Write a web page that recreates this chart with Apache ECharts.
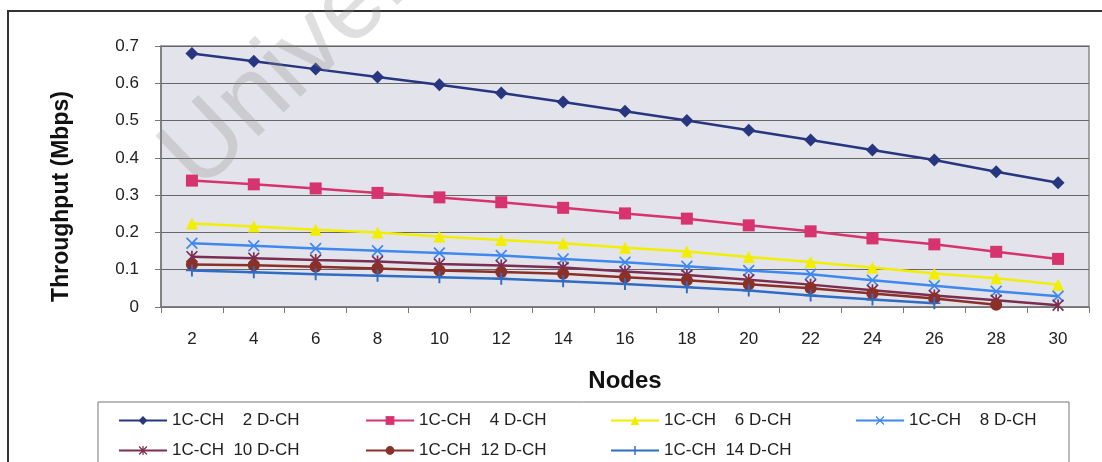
<!DOCTYPE html>
<html>
<head>
<meta charset="utf-8">
<script src="https://cdn.jsdelivr.net/npm/echarts@6/dist/echarts.min.js"></script>
<style>
  html, body { margin: 0; padding: 0; background: #fff; }
  #chart { width: 1102px; height: 462px; }
</style>
</head>
<body>
<div id="chart"></div>
<script>
// x categories (number of nodes)
var nodes = ['2', '4', '6', '8', '10', '12', '14', '16', '18', '20', '22', '24', '26', '28', '30'];

// throughput values (Mbps)
var ch2  = [0.680, 0.659, 0.638, 0.617, 0.596, 0.574, 0.550, 0.525, 0.500, 0.474, 0.448, 0.421, 0.394, 0.363, 0.333];
var ch4  = [0.339, 0.329, 0.318, 0.306, 0.294, 0.281, 0.266, 0.251, 0.237, 0.219, 0.203, 0.184, 0.168, 0.148, 0.129];
var ch6  = [0.224, 0.216, 0.207, 0.200, 0.189, 0.180, 0.171, 0.159, 0.149, 0.134, 0.121, 0.106, 0.090, 0.077, 0.060];
var ch8  = [0.171, 0.164, 0.157, 0.151, 0.145, 0.138, 0.129, 0.120, 0.109, 0.098, 0.088, 0.072, 0.057, 0.042, 0.029];
var ch10 = [0.135, 0.131, 0.126, 0.122, 0.115, 0.111, 0.106, 0.095, 0.086, 0.073, 0.060, 0.045, 0.031, 0.018, 0.005];
var ch12 = [0.114, 0.112, 0.108, 0.103, 0.098, 0.094, 0.089, 0.080, 0.072, 0.061, 0.050, 0.036, 0.023, 0.006, '-'];
var ch14 = [0.098, 0.093, 0.088, 0.084, 0.080, 0.076, 0.069, 0.062, 0.053, 0.044, 0.031, 0.020, 0.010, '-', '-'];

var names = [
    '1C-CH    2 D-CH', '1C-CH    4 D-CH', '1C-CH    6 D-CH', '1C-CH    8 D-CH',
    '1C-CH  10 D-CH', '1C-CH  12 D-CH', '1C-CH  14 D-CH'
];
var yTicks = [0, 0.1, 0.2, 0.3, 0.4, 0.5, 0.6, 0.7];

var FONT = '"Liberation Sans", Arial, sans-serif';

// marker shapes like the Excel ones
var xMark = 'path://M0,1 L1,0 L5,4 L9,0 L10,1 L6,5 L10,9 L9,10 L5,6 L1,10 L0,9 L4,5 Z';
var starMark = 'path://M0,1 L1,0 L5,4 L9,0 L10,1 L6,5 L10,9 L9,10 L5,6 L1,10 L0,9 L4,5 Z M4.3,0 L5.7,0 L5.7,10 L4.3,10 Z';
var plusMark = 'path://M4.2,0 H5.8 V4.3 H10 V5.7 H5.8 V10 H4.2 V5.7 H0 V4.3 H4.2 Z';

function makeSeries(name, data, color, symbol, size) {
    return {
        name: name,
        type: 'line',
        data: data,
        symbol: symbol,
        symbolSize: size,
        showSymbol: true,
        lineStyle: { color: color, width: 2.5 },
        itemStyle: { color: color },
        z: 3
    };
}

function makeLegend(left, data) {
    return {
        orient: 'vertical',
        left: left,
        top: 412,
        padding: 0,
        itemWidth: 48,
        itemHeight: 11,
        itemGap: 13,
        textStyle: { fontSize: 17, color: '#222', fontFamily: FONT },
        data: data
    };
}

var chart = echarts.init(document.getElementById('chart'));
var option = {
    backgroundColor: '#fff',
    animation: false,
    textStyle: { fontFamily: FONT },
    grid: {
        left: 161, top: 46, right: 13, bottom: 155,
        show: true,
        backgroundColor: '#e3e3eb',
        borderColor: '#8a8a8a',
        borderWidth: 1.5
    },
    legend: [
        makeLegend(118, [names[0], names[4]]),
        makeLegend(365, [names[1], names[5]]),
        makeLegend(610, [names[2], names[6]]),
        makeLegend(855, [names[3]])
    ],
    xAxis: {
        type: 'category',
        data: nodes,
        boundaryGap: true,
        name: 'Nodes',
        nameLocation: 'middle',
        nameGap: 62,
        nameTextStyle: { fontSize: 24, fontWeight: 'bold', color: '#111', fontFamily: FONT },
        axisLine: { lineStyle: { color: '#777', width: 1.5 } },
        axisTick: { show: true, inside: false, length: 6, lineStyle: { color: '#777' } },
        axisLabel: { fontSize: 17, color: '#222', margin: 24, fontFamily: FONT },
        splitLine: { show: false }
    },
    yAxis: {
        type: 'value',
        min: yTicks[0],
        max: yTicks[yTicks.length - 1],
        interval: 0.1,
        name: 'Throughput (Mbps)',
        nameLocation: 'middle',
        nameGap: 88,
        nameTextStyle: { fontSize: 23, fontWeight: 'bold', color: '#111', fontFamily: FONT, padding: [0, 40, 0, 0] },
        axisLine: { show: true, lineStyle: { color: '#777', width: 1.5 } },
        axisTick: { show: true, inside: false, length: 6, lineStyle: { color: '#777' } },
        axisLabel: {
            fontSize: 17, color: '#222', margin: 22, fontFamily: FONT,
            formatter: function (v) { return String(Math.round(v * 10) / 10); }
        },
        splitLine: { show: true, lineStyle: { color: '#666', width: 1 } }
    },
    graphic: [
        // outer chart frame
        {
            type: 'rect', silent: true, z: -1,
            shape: { x: 8, y: 11, width: 1120, height: 480 },
            style: { fill: 'none', stroke: '#333', lineWidth: 2 }
        },
        // legend frame
        {
            type: 'rect', silent: true,
            shape: { x: 98, y: 402, width: 971, height: 90 },
            style: { fill: 'none', stroke: '#777', lineWidth: 1 }
        },
        // scanned watermark
        {
            type: 'text', silent: true, z: 100,
            x: 215, y: 210, rotation: 0.76,
            style: {
                text: 'University', fontSize: 104, fontFamily: FONT,
                fill: 'rgba(140,140,140,0.28)', textVerticalAlign: 'bottom'
            }
        }
    ],
    series: [
        makeSeries(names[0], ch2, '#27367f', 'diamond', 13),
        makeSeries(names[1], ch4, '#d6336f', 'rect', 12),
        makeSeries(names[2], ch6, '#f2ee00', 'triangle', 12),
        makeSeries(names[3], ch8, '#3f88ef', xMark, 12),
        makeSeries(names[4], ch10, '#7b2d52', starMark, 12),
        makeSeries(names[5], ch12, '#8a3028', 'circle', 12),
        makeSeries(names[6], ch14, '#2f6cc4', plusMark, 12)
    ]
};
chart.setOption(option);
</script>
</body>
</html>
